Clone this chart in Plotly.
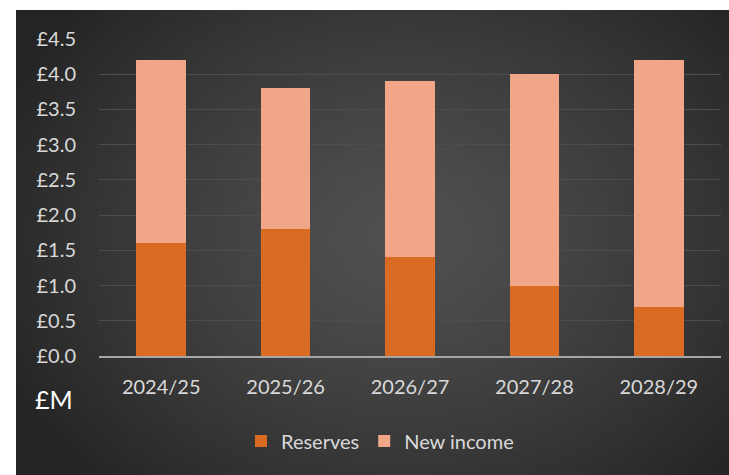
import base64, struct, zlib, math
import plotly.graph_objects as go

years = ["2024/25", "2025/26", "2026/27", "2027/28", "2028/29"]
reserves = [1.6, 1.8, 1.4, 1.0, 0.7]
new_income = [2.6, 2.0, 2.5, 3.0, 3.5]
y_ticks = [0, 0.5, 1.0, 1.5, 2.0, 2.5, 3.0, 3.5, 4.0, 4.5]
y_labels = ["£0.0", "£0.5", "£1.0", "£1.5", "£2.0", "£2.5", "£3.0", "£3.5", "£4.0", "£4.5"]

W, H = 729, 475
ml, mr, mt, mb = 99, 8, 39, 119
pw, ph = W - ml - mr, H - mt - mb

# radial gradient background image (pure python PNG)
def make_png(w, h, cx, cy, rx, ry, c_in, c_out):
    raw = bytearray()
    for j in range(h):
        raw.append(0)
        for i in range(w):
            d = math.sqrt(((i - cx) / rx) ** 2 + ((j - cy) / ry) ** 2)
            t = min(1.0, d) ** 1.3
            v = int(round(c_in + (c_out - c_in) * t))
            raw += bytes((v, v, v))
    def chunk(tag, data):
        c = struct.pack(">I", len(data)) + tag + data
        return c + struct.pack(">I", zlib.crc32(tag + data) & 0xffffffff)
    png = b"\x89PNG\r\n\x1a\n"
    png += chunk(b"IHDR", struct.pack(">IIBBBBB", w, h, 8, 2, 0, 0, 0))
    png += chunk(b"IDAT", zlib.compress(bytes(raw), 9))
    png += chunk(b"IEND", b"")
    return "data:image/png;base64," + base64.b64encode(png).decode()

bx0, by0, bx1, by1 = 16, 10, 729, 475
gw, gh = 143, 93
img = make_png(gw, gh, gw * (400 - bx0) / (bx1 - bx0), gh * (235 - by0) / (by1 - by0),
               gw * 0.62, gh * 0.75, 0x50, 0x24)

px = lambda x: (x - ml) / pw
py = lambda y: (H - mb - y) / ph

fig = go.Figure()
fig.add_trace(go.Bar(x=years, y=reserves, name="Reserves", marker=dict(color="#d96b22", line=dict(width=0))))
fig.add_trace(go.Bar(x=years, y=new_income, name="New income", marker=dict(color="#f0a687", line=dict(width=0))))

fig.update_layout(
    width=W, height=H,
    margin=dict(l=ml, r=mr, t=mt, b=mb),
    barmode="stack", bargap=0.6,
    paper_bgcolor="white", plot_bgcolor="rgba(0,0,0,0)",
    font=dict(family="Lato", size=20, color="#d9d9d9"),
    images=[dict(source=img, xref="paper", yref="paper", x=px(bx0), y=py(by0),
                 sizex=px(bx1) - px(bx0), sizey=py(by0) - py(by1),
                 xanchor="left", yanchor="top", sizing="stretch", layer="below")],
    xaxis=dict(showgrid=False, ticks="", tickfont=dict(size=20, color="#d9d9d9"),
               showline=True, linecolor="#a6a6a6", linewidth=2, ticklabelstandoff=12),
    yaxis=dict(range=[0, 4.5], tickvals=y_ticks, ticktext=y_labels, showgrid=True,
               gridcolor="#4d4d4d", gridwidth=1, zeroline=False, ticks="",
               tickfont=dict(size=20, color="#d9d9d9"), ticklabelstandoff=22),
    legend=dict(orientation="h", x=px(380), xanchor="center", y=py(441), yanchor="middle",
                font=dict(size=20, color="#d9d9d9"), bgcolor="rgba(0,0,0,0)", traceorder="normal"),
    annotations=[dict(text="£M", xref="paper", yref="paper", x=px(33), y=py(399),
                      xanchor="left", yanchor="middle", showarrow=False,
                      font=dict(size=25, color="#ffffff", family="Lato"))],
)
fig.write_html("out.html")
